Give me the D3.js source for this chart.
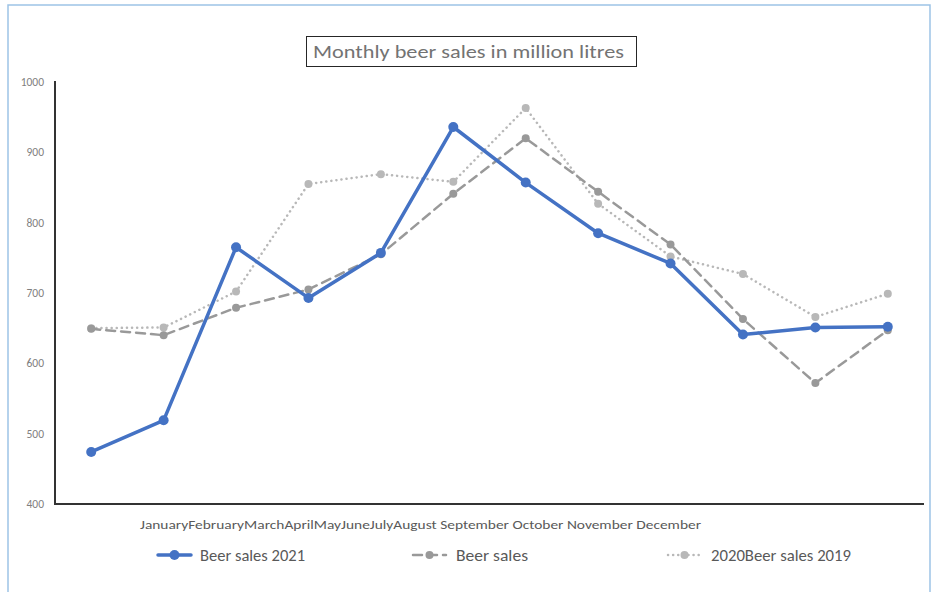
<!DOCTYPE html>
<html>
<head>
<meta charset="utf-8">
<script src="https://cdn.jsdelivr.net/npm/d3@7"></script>
<style>
  body { margin: 0; background: #fff; }
  svg { font-family: Carlito, "Open Sans", "Liberation Sans", sans-serif; }
</style>
</head>
<body>
<svg width="931" height="592"></svg>
<script>
const months = ["January","February","March","April","May","June","July","August","September","October","November","December"];
const sales2021 = [474, 519, 765, 693, 757, 936, 857, 785, 742, 641, 651, 652];
const sales2020 = [649, 640, 679, 705, 755, 841, 920, 844, 769, 663, 572, 647];
const sales2019 = [650, 651, 702, 855, 869, 858, 963, 827, 752, 727, 666, 699];
const yTicks = [400, 500, 600, 700, 800, 900, 1000];
const legendNames = ["Beer sales 2021", "Beer sales", "2020Beer sales 2019"];

const svg = d3.select("svg");

// outer frame
svg.append("rect").attr("x", 8).attr("y", 5).attr("width", 922).attr("height", 600)
  .attr("fill", "none").attr("stroke", "#9dc3e6").attr("stroke-width", 1.5);

// title box
svg.append("rect").attr("x", 306.5).attr("y", 36.5).attr("width", 330).attr("height", 30)
  .attr("fill", "#fff").attr("stroke", "#262626").attr("stroke-width", 1);
svg.append("text").attr("x", 313).attr("y", 58).attr("font-size", 18).attr("fill", "#737373")
  .attr("textLength", 311).attr("lengthAdjust", "spacingAndGlyphs")
  .text("Monthly beer sales in million litres");

const x = d3.scaleBand().domain(months).range([55, 924]);
const y = d3.scaleLinear().domain([400, 1000]).range([504, 82]);
const cx = d => x(d) + x.bandwidth() / 2;

// y axis labels
svg.append("g").selectAll("text").data(yTicks).join("text")
  .attr("x", 44).attr("y", d => y(d) + 4)
  .attr("text-anchor", "end").attr("font-size", 11.5).attr("fill", "#7f7f7f")
  .text(d => d);

svg.append("line").attr("x1", 55).attr("x2", 55).attr("y1", 81).attr("y2", 505)
  .attr("stroke", "#333").attr("stroke-width", 2);
svg.append("line").attr("x1", 54).attr("x2", 924).attr("y1", 504).attr("y2", 504)
  .attr("stroke", "#333").attr("stroke-width", 2);

// crowded month labels, as in the original
const xl = svg.append("text").attr("x", 140).attr("y", 529).attr("font-size", 12.5)
  .attr("fill", "#595959").attr("textLength", 561).attr("lengthAdjust", "spacingAndGlyphs");
months.forEach((m, i) => xl.append("tspan").text(i < 8 ? m : " " + m));

const series = [
  {name: legendNames[0], values: sales2021, color: "#4472c4", width: 3.5, dash: null, r: 5},
  {name: legendNames[1], values: sales2020, color: "#999999", width: 2.5, dash: "9,6", r: 4},
  {name: legendNames[2], values: sales2019, color: "#b8b8b8", width: 2.5, dash: "0.1,5", r: 4}
];

const line = d3.line().x((d, i) => cx(months[i])).y(d => y(d));

// draw back to front
series.slice().reverse().forEach(s => {
  const g = svg.append("g");
  g.append("path").datum(s.values).attr("d", line)
    .attr("fill", "none").attr("stroke", s.color).attr("stroke-width", s.width)
    .attr("stroke-linecap", "round").attr("stroke-linejoin", "round")
    .attr("stroke-dasharray", s.dash);
  g.selectAll("circle").data(s.values).join("circle")
    .attr("cx", (d, i) => cx(months[i])).attr("cy", d => y(d))
    .attr("r", s.r).attr("fill", s.color);
});

// legend
const legendX = [158, 413, 668];
const legendLen = [105, 72, 140];
series.forEach((s, i) => {
  const g = svg.append("g").attr("transform", `translate(${legendX[i]},555)`);
  g.append("line").attr("x1", 0).attr("x2", 33).attr("y1", 0).attr("y2", 0)
    .attr("stroke", s.color).attr("stroke-width", s.width)
    .attr("stroke-linecap", "round").attr("stroke-dasharray", s.dash);
  g.append("circle").attr("cx", 16.5).attr("cy", 0).attr("r", s.r).attr("fill", s.color);
  g.append("text").attr("x", i === 0 ? 42 : 43).attr("y", 6).attr("font-size", 16)
    .attr("fill", "#595959").attr("textLength", legendLen[i]).attr("lengthAdjust", "spacingAndGlyphs")
    .text(s.name);
});
</script>
</body>
</html>
